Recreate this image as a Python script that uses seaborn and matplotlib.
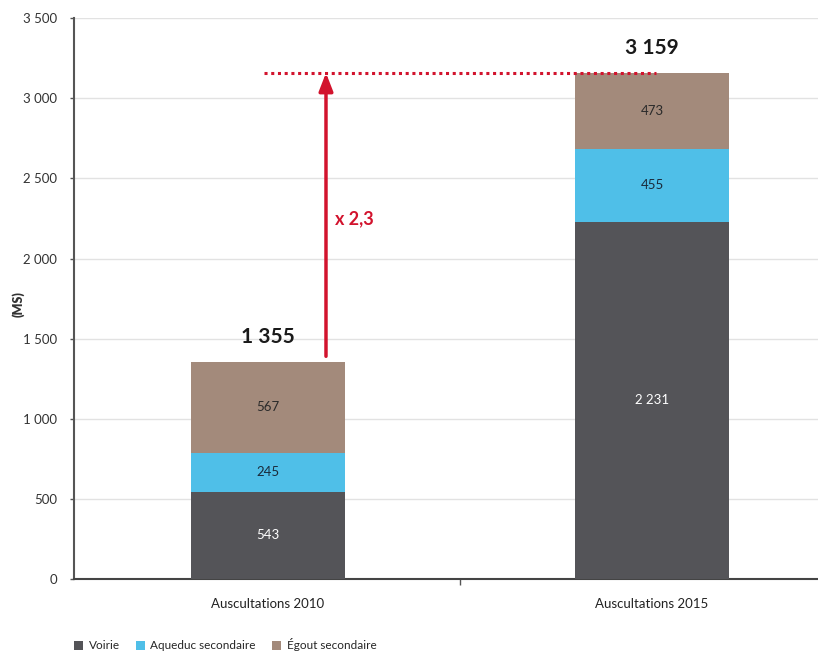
import matplotlib
matplotlib.use("Agg")
import matplotlib.pyplot as plt
from matplotlib.patches import Patch
import seaborn as sns
import numpy as np
import pandas as pd

# Data (MS)
categories = ["Auscultations 2010", "Auscultations 2015"]
voirie = [543, 2231]
aqueduc = [245, 455]
egout = [567, 473]
totals = [1355, 3159]
ratio_label = "x 2,3"
series_names = ["Voirie", "Aqueduc secondaire", "Égout secondaire"]
y_ticks = [0, 500, 1000, 1500, 2000, 2500, 3000, 3500]
y_tick_labels = ["0", "500", "1 000", "1 500", "2 000", "2 500", "3 000", "3 500"]

colors = ["#545458", "#4fbfe8", "#a38a7b"]
text_colors = ["#ffffff", "#1a2a3a", "#2a2a2a"]

sns.set_theme(style="white")
plt.rcParams["font.family"] = ["Lato", "DejaVu Sans"]

fig = plt.figure(figsize=(8.18, 6.52), dpi=100)
ax = fig.add_axes([0.0905, 0.112, 0.9095, 0.860])

df = pd.DataFrame({"cat": categories, "Voirie": voirie,
                   "Aqueduc": aqueduc, "Egout": egout})
bottoms = np.zeros(len(categories))
for col, color, tcol in zip(["Voirie", "Aqueduc", "Egout"], colors, text_colors):
    sns.barplot(data=df, x="cat", y=col, color=color, width=0.40,
                bottom=bottoms, ax=ax, saturation=1, linewidth=0, zorder=3)
    vals = df[col].to_numpy()
    for i, v in enumerate(vals):
        ax.text(i, bottoms[i] + v / 2, f"{v:,}".replace(",", " "),
                ha="center", va="center", fontsize=9.5, color=tcol, zorder=5)
    bottoms = bottoms + vals

# Totals above the bars
for i, t in enumerate(totals):
    ax.text(i, t + 95, f"{t:,}".replace(",", " "), ha="center", va="bottom",
            fontsize=15, fontweight="bold", color="#1a1a1a", zorder=5)

# Growth arrow and reference line
red = "#d2132d"
ax.plot([-0.01, 1.01], [totals[1], totals[1]], color=red, lw=2.2,
        linestyle=(0, (1, 1.2)), zorder=4)
ax.annotate("", xy=(0.151, totals[1]), xytext=(0.151, 1390),
            arrowprops=dict(arrowstyle="-|>,head_length=0.9,head_width=0.35",
                            color=red, lw=2.5, shrinkA=0, shrinkB=0), zorder=4)
ax.text(0.175, 2250, ratio_label, color=red, fontsize=13, fontweight="bold",
        ha="left", va="center")

ax.set_xlim(-0.505, 1.432)
ax.set_ylim(0, 3500)
ax.set_yticks(y_ticks)
ax.set_yticklabels(y_tick_labels, fontsize=9.5, color="#333333")
ax.set_xticks([0, 1])
ax.set_xticklabels(categories, fontsize=9.5, color="#222222")
ax.set_xticks([0.5], minor=True)
ax.tick_params(axis="x", which="major", length=0, pad=14)
ax.tick_params(axis="x", which="minor", length=4, width=1, color="#555555", direction="out", bottom=True)
ax.tick_params(axis="y", length=3, width=1, color="#555555", direction="out", left=True, pad=9)
ax.set_xlabel("")
ax.set_ylabel("(MS)", fontsize=9, fontweight="heavy", color="#333333")
ax.yaxis.set_label_coords(-0.066, 0.49)

ax.grid(axis="y", color="#e2e2e2", lw=1, zorder=0)
ax.set_axisbelow(True)
for s in ["top", "right"]:
    ax.spines[s].set_visible(False)
ax.spines["left"].set_color("#555555")
ax.spines["left"].set_linewidth(1.5)
ax.spines["bottom"].set_color("#444444")
ax.spines["bottom"].set_linewidth(1.5)

handles = [Patch(facecolor=c, edgecolor="none") for c in colors]
fig.legend(handles, series_names, loc="lower left", bbox_to_anchor=(0.078, -0.015),
           ncol=3, frameon=False, fontsize=8.5, handlelength=0.7, handleheight=0.8,
           handletextpad=0.5, columnspacing=1.4)

fig.savefig("out.png", dpi=100)
